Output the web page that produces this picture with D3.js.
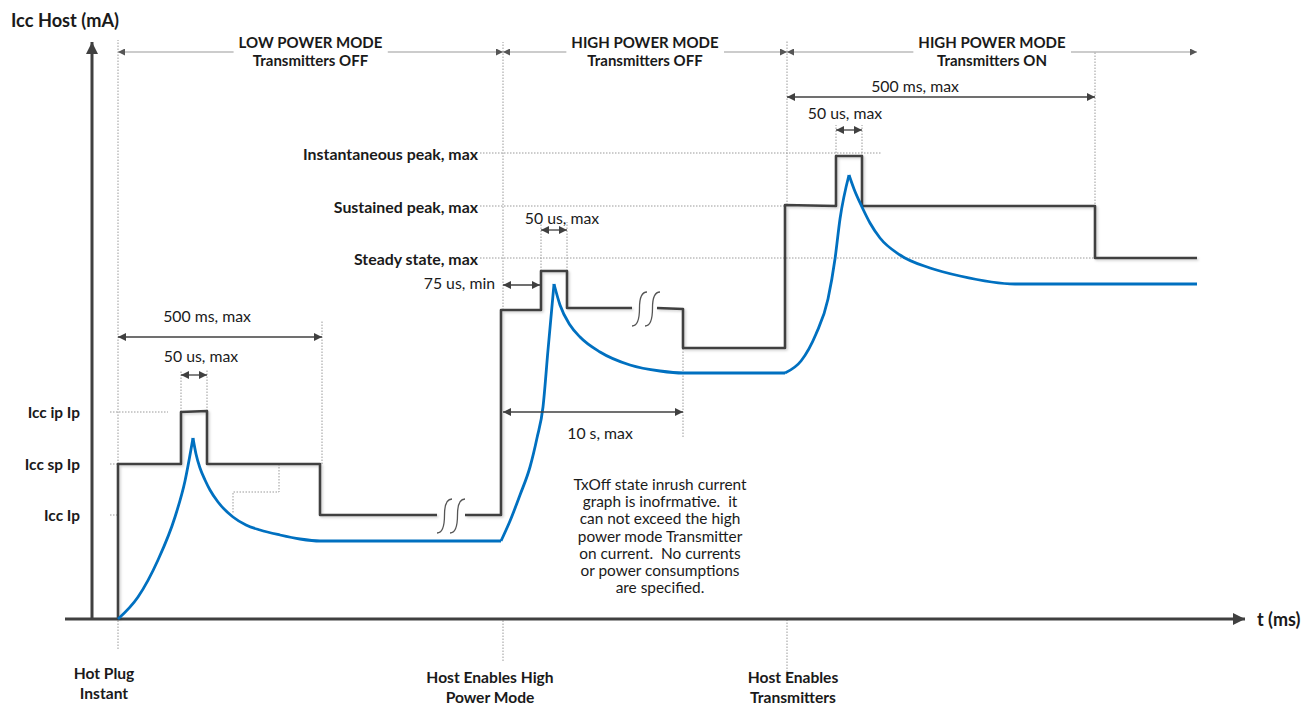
<!DOCTYPE html>
<html>
<head>
    <title>Icc Host timing</title>
    <script src="https://d3js.org/d3.v7.js"></script>
    <style>
        body { margin: 0; background: #fff; }
        svg text { font-family: Lato, "Open Sans", sans-serif; fill: #1a1a1a; white-space: pre; }
        .bold { font-weight: bold; }
    </style>
</head>
<body>
    <svg id="chart"></svg>
    <script>
        // Data (t in arbitrary time units from hot plug, I in arbitrary current units)

        // host current limit trace, broken where the time axis is compressed
        var blackTrace = [
            [[0, 0], [0, 155], [63, 155], [63, 207], [89, 208], [89, 155], [202, 155], [202, 104], [319, 104]],
            [[347, 104], [383, 104], [383, 309], [423, 309], [423, 348], [449, 348], [449, 311], [514, 311]],
            [[539, 311], [565, 310], [565, 271], [667, 271], [667, 414], [718, 413], [718, 463], [744, 463],
             [744, 413], [977, 413], [977, 361], [1079, 361]]
        ];

        // inrush current (blue), split at the cusps
        var blueRise = [
            [[0, 0], [20, 22], [40, 59], [57, 102], [67, 138], [75, 181]],
            [[383, 78], [392, 98], [402, 124], [412, 152], [419, 181], [425, 212], [430, 269], [436, 335]],
            [[667, 246], [683, 258], [698, 285], [710, 320], [717, 360], [722, 400], [731, 444]]
        ];
        var blueDecay = [
            [[75, 181], [78, 165], [82, 151], [87, 139], [92, 129], [100, 117], [115, 102], [128, 94],
             [142, 89], [162, 84], [182, 80], [202, 78], [383, 78]],
            [[436, 335], [442, 314], [452, 294], [462, 282], [482, 267], [512, 254], [542, 248], [565, 246], [667, 246]],
            [[731, 444], [736, 430], [744, 412], [752, 396], [762, 381], [782, 364], [812, 351], [842, 343],
             [897, 335], [1079, 335]]
        ];

        var breaks = [[319, 104], [514, 311]];

        // reference levels: label, level, guide end
        var leftLevels = [["Icc ip Ip", 207, 50], ["Icc sp Ip", 155, 0], ["Icc Ip", 104, 0]];
        var midLevels = [["Instantaneous peak, max", 466, 764], ["Sustained peak, max", 413, 667], ["Steady state, max", 361, 977]];

        // events on the time axis: t, guide end, label lines, label t, label I
        var events = [
            [0, -30, ["Hot Plug", "Instant"], -14, -54],
            [385, -42, ["Host Enables High", "Power Mode"], 372, -58],
            [669, -56, ["Host Enables", "Transmitters"], 675, -58]
        ];

        // vertical guides: t, I from, I to
        var guides = [
            [0, 155, 579], [385, 309, 577], [669, 414, 579], [977, 361, 567],
            [204, 155, 299], [63, 207, 249], [89, 208, 249],
            [565, 182, 310], [423, 348, 397], [449, 348, 397], [718, 463, 494], [744, 463, 494]
        ];
        var stepGuide = [[161, 155], [161, 127], [115, 127], [115, 106]];

        // timing dimensions: from, to, level, label, label t, label I, anchor
        var dims = [
            [0, 204, 282, "500 ms, max", 89, 304, "middle"],
            [63, 89, 244, "50 us, max", 83, 264, "middle"],
            [385, 422, 334, "75 us, min", 377, 337, "end"],
            [423, 449, 389, "50 us, max", 444, 402, "middle"],
            [385, 565, 207, "10 s, max", 482, 187, "middle"],
            [669, 977, 522, "500 ms, max", 797, 534, "middle"],
            [718, 744, 489, "50 us, max", 727, 507, "middle"]
        ];

        // operating modes across the top
        var modes = [
            [0, 385, "LOW POWER MODE", "Transmitters OFF"],
            [385, 669, "HIGH POWER MODE", "Transmitters OFF"],
            [669, 1079, "HIGH POWER MODE", "Transmitters ON"]
        ];
        var modeLevel = 567;

        var note = ["TxOff state inrush current", "graph is inofrmative.  it", "can not exceed the high",
            "power mode Transmitter", "on current.  No currents", "or power consumptions", "are specified."];

        // Dimensions
        var width = 1307, height = 707;
        var x = d3.scaleLinear().domain([0, 1079]).range([118, 1197]);
        var y = d3.scaleLinear().domain([0, 600]).range([619, 19]);
        var ink = "#404040", blue = "#0070c0", guideCol = "#9a9a9a";

        var svg = d3.select("#chart").attr("width", width).attr("height", height);

        var defs = svg.append("defs");
        function marker(id, col, w, h) {
            defs.append("marker").attr("id", id)
                .attr("viewBox", "0 0 10 10").attr("refX", 10).attr("refY", 5)
                .attr("markerWidth", w).attr("markerHeight", h)
                .attr("markerUnits", "userSpaceOnUse")
                .attr("orient", "auto-start-reverse")
                .append("path").attr("d", "M0,0 L10,5 L0,10 Z").attr("fill", col);
        }
        marker("arr", ink, 11, 8);
        marker("big", ink, 16, 12);
        marker("head", "#555", 11, 7);

        var f = defs.append("filter").attr("id", "shadow").attr("x", "-5%").attr("y", "-5%")
            .attr("width", "110%").attr("height", "110%");
        f.append("feDropShadow").attr("dx", 1.5).attr("dy", 1.5).attr("stdDeviation", 1)
            .attr("flood-color", "#000").attr("flood-opacity", 0.18);

        var line = d3.line().x(function (d) { return x(d[0]); }).y(function (d) { return y(d[1]); });
        var smooth = d3.line().x(function (d) { return x(d[0]); }).y(function (d) { return y(d[1]); })
            .curve(d3.curveMonotoneX);

        // dotted guides
        var g = svg.append("g").attr("stroke", guideCol).attr("stroke-width", 1)
            .attr("stroke-dasharray", "1.5,1.5").attr("fill", "none");
        guides.forEach(function (d) {
            g.append("line").attr("x1", x(d[0])).attr("x2", x(d[0])).attr("y1", y(d[1])).attr("y2", y(d[2]));
        });
        events.forEach(function (d) {
            g.append("line").attr("x1", x(d[0])).attr("x2", x(d[0])).attr("y1", y(d[1])).attr("y2", y(0));
        });
        g.append("path").attr("d", line(stepGuide));
        leftLevels.forEach(function (d) {
            g.append("line").attr("x1", x(-8)).attr("x2", x(d[2])).attr("y1", y(d[1])).attr("y2", y(d[1]));
        });
        midLevels.forEach(function (d) {
            g.append("line").attr("x1", x(362)).attr("x2", x(d[2])).attr("y1", y(d[1])).attr("y2", y(d[1]));
        });

        // mode header
        var hg = svg.append("g");
        modes.forEach(function (d) {
            hg.append("line").attr("x1", x(d[0])).attr("x2", x(d[1]))
                .attr("y1", y(modeLevel)).attr("y2", y(modeLevel))
                .attr("stroke", "#999").attr("stroke-width", 1)
                .attr("marker-start", "url(#head)").attr("marker-end", "url(#head)");
        });
        modes.forEach(function (d) {
            var cx = x((d[0] + d[1]) / 2);
            var t1 = hg.append("text").attr("class", "bold").attr("x", cx).attr("y", y(modeLevel) - 10)
                .attr("text-anchor", "middle").attr("dominant-baseline", "central")
                .attr("font-size", 15).text(d[2]);
            var bb = t1.node().getBBox();
            hg.insert("rect", "text").attr("x", bb.x - 5).attr("y", y(modeLevel) - 3)
                .attr("width", bb.width + 10).attr("height", 6).attr("fill", "#fff");
            hg.append("text").attr("class", "bold").attr("x", cx).attr("y", y(modeLevel) + 8)
                .attr("text-anchor", "middle").attr("dominant-baseline", "central")
                .attr("font-size", 15).text(d[3]);
        });

        // axes
        svg.append("line").attr("x1", x(-26)).attr("x2", x(-26)).attr("y1", y(0)).attr("y2", y(577))
            .attr("stroke", ink).attr("stroke-width", 3).attr("marker-end", "url(#big)");
        svg.append("line").attr("x1", x(-53)).attr("x2", x(1127)).attr("y1", y(0)).attr("y2", y(0))
            .attr("stroke", ink).attr("stroke-width", 3).attr("marker-end", "url(#big)");

        // traces
        svg.append("g").attr("filter", "url(#shadow)").selectAll("path").data(blackTrace).enter()
            .append("path").attr("d", line).attr("fill", "none").attr("stroke", ink)
            .attr("stroke-width", 2.6).attr("stroke-linejoin", "round");

        var bg = svg.append("g").attr("fill", "none").attr("stroke", blue).attr("stroke-width", 2.8);
        blueRise.concat(blueDecay).forEach(function (seg) {
            bg.append("path").attr("d", smooth(seg));
        });

        // axis break squiggles
        breaks.forEach(function (d) {
            [0, 13].forEach(function (off) {
                var x0 = x(d[0]) + off, ym = y(d[1]), w = 15;
                svg.append("path")
                    .attr("d", "M" + x0 + "," + (ym + 18) + " Q" + (x0 + w / 2) + "," + (ym + 18) + " " + (x0 + w / 2) + "," + ym +
                        " Q" + (x0 + w / 2) + "," + (ym - 16) + " " + (x0 + w) + "," + (ym - 16))
                    .attr("fill", "none").attr("stroke", "#555").attr("stroke-width", 1.3);
            });
        });

        // timing dimensions
        dims.forEach(function (d) {
            svg.append("line").attr("x1", x(d[0])).attr("x2", x(d[1])).attr("y1", y(d[2])).attr("y2", y(d[2]))
                .attr("stroke", ink).attr("stroke-width", 1.3)
                .attr("marker-start", "url(#arr)").attr("marker-end", "url(#arr)");
            svg.append("text").attr("x", x(d[4])).attr("y", y(d[5])).attr("text-anchor", d[6])
                .attr("dominant-baseline", "central").attr("font-size", 15.8).text(d[3]);
        });

        // level labels
        leftLevels.forEach(function (d) {
            svg.append("text").attr("class", "bold").attr("x", x(-38)).attr("y", y(d[1]))
                .attr("text-anchor", "end").attr("dominant-baseline", "central").attr("font-size", 15.4).text(d[0]);
        });
        midLevels.forEach(function (d) {
            svg.append("text").attr("class", "bold").attr("x", x(360)).attr("y", y(d[1]))
                .attr("text-anchor", "end").attr("dominant-baseline", "central").attr("font-size", 15.9).text(d[0]);
        });

        // event labels
        events.forEach(function (d) {
            d[2].forEach(function (s, i) {
                svg.append("text").attr("class", "bold").attr("x", x(d[3])).attr("y", y(d[4] - i * 20))
                    .attr("text-anchor", "middle").attr("dominant-baseline", "central").attr("font-size", 15.6).text(s);
            });
        });

        // axis titles
        svg.append("text").attr("class", "bold").attr("x", 11).attr("y", y(599))
            .attr("dominant-baseline", "central").attr("font-size", 18.2).text("Icc Host (mA)");
        svg.append("text").attr("class", "bold").attr("x", x(1139)).attr("y", y(0))
            .attr("dominant-baseline", "central").attr("font-size", 18).text("t (ms)");

        // note
        note.forEach(function (s, i) {
            svg.append("text").attr("x", x(542)).attr("y", y(135) + i * 17.2)
                .attr("text-anchor", "middle").attr("dominant-baseline", "central").attr("font-size", 15.4).text(s);
        });
    </script>
</body>
</html>
